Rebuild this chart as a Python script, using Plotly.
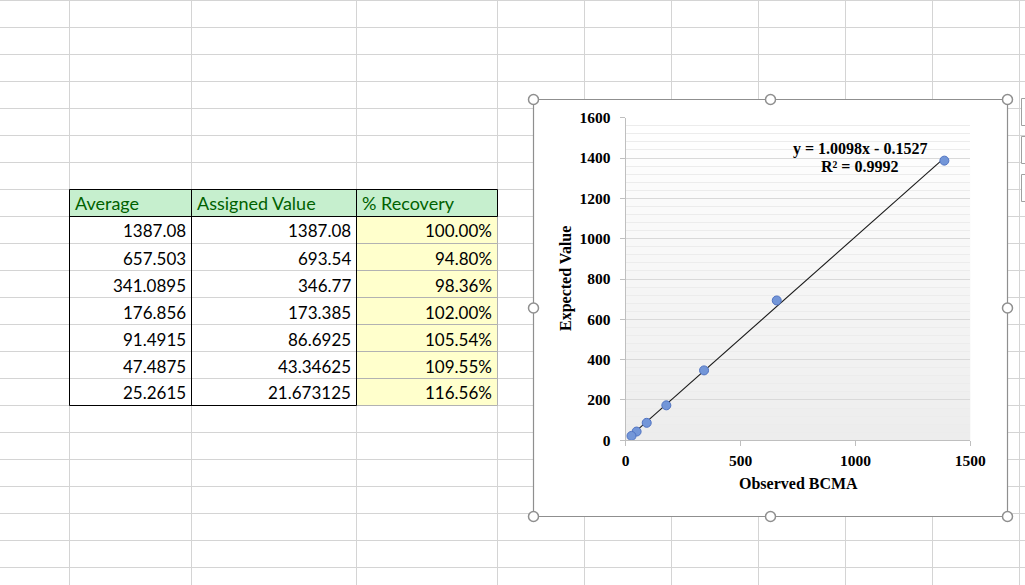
import numpy as np
import plotly.graph_objects as go

# ---------------- data ----------------
headers = ["Average", "Assigned Value", "% Recovery"]
average = [1387.08, 657.503, 341.0895, 176.856, 91.4915, 47.4875, 25.2615]
assigned = [1387.08, 693.54, 346.77, 173.385, 86.6925, 43.34625, 21.673125]
recovery_pct = [100.00, 94.80, 98.36, 102.00, 105.54, 109.55, 116.56]
x_ticks = [0, 500, 1000, 1500]
y_ticks = [0, 200, 400, 600, 800, 1000, 1200, 1400, 1600]
equation_text = "y = 1.0098x - 0.1527"
r2_text = "R² = 0.9992"
x_title = "Observed BCMA"
y_title = "Expected Value"

W, H = 1025, 585


def px(x):
    return x / W


def py(y):
    return 1 - y / H


shapes = []


def line(x0, y0, x1, y1, color, width=1):
    shapes.append(dict(type="line", xref="paper", yref="paper", layer="below",
                       x0=px(x0), y0=py(y0), x1=px(x1), y1=py(y1),
                       line=dict(color=color, width=width)))


def rect(x0, y0, x1, y1, fill=None, color=None, width=1, layer="below"):
    shapes.append(dict(type="rect", xref="paper", yref="paper", layer=layer,
                       x0=px(x0), y0=py(y0), x1=px(x1), y1=py(y1),
                       fillcolor=fill if fill else "rgba(0,0,0,0)",
                       line=dict(color=color if color else "rgba(0,0,0,0)",
                                 width=width if color else 0)))


# ---------------- spreadsheet grid ----------------
GRID = "#d4d4d4"
col_lines = [69.5, 191.5, 356.5, 497.5, 584.5, 671.5, 758.5, 845.5, 932.5, 1019.5]
row_lines = [0.5 + 27 * k for k in range(22)]
for cx in col_lines:
    line(cx, 0, cx, H, GRID)
for ry in row_lines:
    line(0, ry, W, ry, GRID)

# ---------------- table ----------------
cx0, cx1, cx2, cx3 = 69.5, 191.5, 356.5, 497.5
top = 189.5
hdr_bot = 216.5
n = len(average)
bot = hdr_bot + 27 * n
rect(cx0, top, cx3, hdr_bot, fill="#c6efce")
rect(cx2, hdr_bot, cx3, bot, fill="#ffffcc")
for k in range(n):
    rect(cx2, hdr_bot + 27 * k, cx3, hdr_bot + 27 * (k + 1), color="#b2b2b2")
# black borders
line(cx0, top, cx3, top, "#000000")
line(cx0, hdr_bot, cx3, hdr_bot, "#000000")
line(cx3, top, cx3, hdr_bot, "#000000")
for cx in (cx0, cx1, cx2):
    line(cx, top, cx, bot, "#000000")
line(cx0, bot, cx2, bot, "#000000")

annotations = []
TABLE_FONT = "Lato, 'Open Sans', sans-serif"
hdr_x = [72.5, 194.5, 359.5]
for hx, htxt in zip(hdr_x, headers):
    annotations.append(dict(text=htxt, xref="paper", yref="paper", x=px(hx), y=py(203),
                            xanchor="left", yanchor="middle", showarrow=False,
                            font=dict(family=TABLE_FONT, size=18, color="#006100")))
right_x = [187.5, 352.5, 494]
for k in range(n):
    ry = 231 + 27 * k
    vals = [str(average[k]), str(assigned[k]), f"{recovery_pct[k]:.2f}%"]
    for rx, v in zip(right_x, vals):
        annotations.append(dict(text=v, xref="paper", yref="paper", x=px(rx), y=py(ry),
                                xanchor="right", yanchor="middle", showarrow=False,
                                font=dict(family=TABLE_FONT, size=17, color="#000000")))

# ---------------- chart area ----------------
ch_x0, ch_y0, ch_x1, ch_y1 = 533.5, 99.5, 1007.5, 516.5
rect(ch_x0, ch_y0, ch_x1, ch_y1, fill="#ffffff", color="#8f8f8f", width=1.2)

# partial boxes at far right edge
for (by0, by1) in [(98.5, 125.5), (136.5, 163.5), (174.5, 201.5)]:
    rect(1021.5, by0, 1040, by1, fill="#ffffff", color="#a0a0a0", width=1)

# plot area gradient bands (domain-referenced, under gridlines)
nb = 40
for i in range(nb):
    t = i / (nb - 1)
    g = int(round(255 - t * (255 - 237)))
    shapes.append(dict(type="rect", xref="x domain", yref="y domain", layer="below",
                       x0=0, x1=1, y0=1 - (i + 1) / nb, y1=1 - i / nb,
                       fillcolor=f"rgb({g},{g},{g})", line=dict(width=0)))

# selection handles
handles = [(ch_x0, ch_y0), ((ch_x0 + ch_x1) / 2, ch_y0), (ch_x1, ch_y0),
           (ch_x0, (ch_y0 + ch_y1) / 2), (ch_x1, (ch_y0 + ch_y1) / 2),
           (ch_x0, ch_y1), ((ch_x0 + ch_x1) / 2, ch_y1), (ch_x1, ch_y1)]
for hx, hy in handles:
    r = 5
    shapes.append(dict(type="circle", xref="paper", yref="paper", layer="above",
                       x0=px(hx - r), x1=px(hx + r), y0=py(hy + r), y1=py(hy - r),
                       fillcolor="#ffffff", line=dict(color="#8f8f8f", width=1.5)))

# ---------------- plot ----------------
pa_x0, pa_x1 = 625.7, 970.3
pa_y0, pa_y1 = 117.7, 440.3

slope, intercept = np.polyfit(average, assigned, 1)
xfit = np.array([min(average), max(average)])
yfit = slope * xfit + intercept

fig = go.Figure()
fig.add_trace(go.Scatter(x=xfit, y=yfit, mode="lines",
                         line=dict(color="#1a1a1a", width=1.1),
                         hoverinfo="skip", showlegend=False))
fig.add_trace(go.Scatter(x=average, y=assigned, mode="markers",
                         marker=dict(size=9, color="#7396d8",
                                     line=dict(color="#5073c2", width=1)),
                         showlegend=False))

SERIF = "'Liberation Serif', 'Times New Roman', serif"
annotations.append(dict(text=f"<b>{equation_text}</b>", xref="paper", yref="paper",
                        x=px(859.5), y=py(148.5), xanchor="center", yanchor="middle",
                        showarrow=False, font=dict(family=SERIF, size=16, color="#000000")))
annotations.append(dict(text=f"<b>{r2_text}</b>", xref="paper", yref="paper",
                        x=px(859.5), y=py(166.5), xanchor="center", yanchor="middle",
                        showarrow=False, font=dict(family=SERIF, size=16, color="#000000")))
annotations.append(dict(text=f"<b>{x_title}</b>", xref="paper", yref="paper",
                        x=px(798), y=py(483.5), xanchor="center", yanchor="middle",
                        showarrow=False, font=dict(family=SERIF, size=16, color="#000000")))
annotations.append(dict(text=f"<b>{y_title}</b>", xref="paper", yref="paper",
                        x=px(566), y=py(279), xanchor="center", yanchor="middle",
                        textangle=-90, showarrow=False,
                        font=dict(family=SERIF, size=16, color="#000000")))

fig.update_layout(
    width=W, height=H,
    margin=dict(l=0, r=0, t=0, b=0, pad=0, autoexpand=False),
    paper_bgcolor="#ffffff",
    plot_bgcolor="rgba(0,0,0,0)",
    shapes=shapes,
    annotations=annotations,
    showlegend=False,
    xaxis=dict(domain=[px(pa_x0), px(pa_x1)], range=[0, 1500], automargin=False,
               tickvals=x_ticks, ticktext=[f"<b>{v}</b>" for v in x_ticks],
               showgrid=False, zeroline=False,
               showline=True, linecolor="#bfbfbf", linewidth=1,
               ticks="outside", ticklen=5, tickcolor="#bfbfbf",
               ticklabelstandoff=1,
               tickfont=dict(family=SERIF, size=15.5, color="#000000"),
               fixedrange=True),
    yaxis=dict(domain=[py(pa_y1), py(pa_y0)], range=[0, 1600], automargin=False,
               tickvals=y_ticks, ticktext=[f"<b>{v}</b>" for v in y_ticks],
               showgrid=True, gridcolor="#d9d9d9", gridwidth=1,
               minor=dict(dtick=40, tick0=0, showgrid=True, gridcolor="#ececec", gridwidth=1),
               zeroline=False,
               showline=True, linecolor="#bfbfbf", linewidth=1,
               ticks="outside", ticklen=5, tickcolor="#bfbfbf",
               ticklabelstandoff=6,
               tickfont=dict(family=SERIF, size=15.5, color="#000000"),
               fixedrange=True),
)

fig.write_html("out.html", config={"displayModeBar": False},
               post_script="document.body.style.margin='0px';document.body.style.overflow='hidden';")
